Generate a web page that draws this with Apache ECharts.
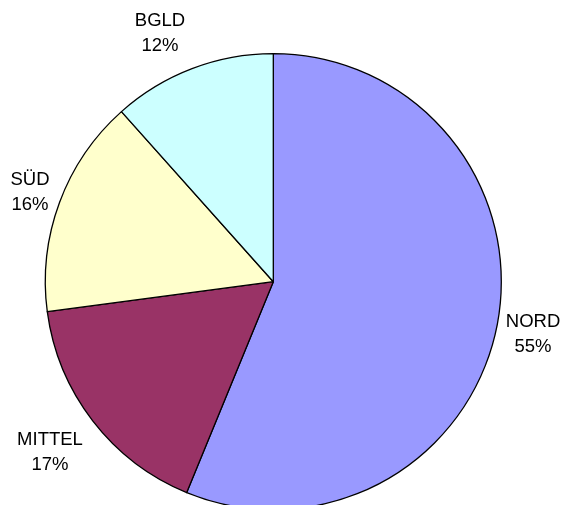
<!DOCTYPE html>
<html>
<head>
<meta charset="utf-8">
<script src="https://cdn.jsdelivr.net/npm/echarts@6/dist/echarts.min.js"></script>
<style>
  html, body { margin: 0; padding: 0; background: #fff; }
  #Pie { width: 563px; height: 505px; }
</style>
</head>
<body>
<div id="Pie"></div>
<script>
// 数据
var regionNames = ['NORD', 'MITTEL', 'SÜD', 'BGLD'];
var regionShares = [56.2, 16.7, 15.5, 11.6];      // slice sizes as drawn
var regionLabels = ['55%', '17%', '16%', '12%'];  // percentages as printed
var regionColors = ['#9999ff', '#993366', '#ffffcc', '#ccffff'];

// label placement (text centres)
var labelPos = [[533, 334], [50, 452], [30, 192], [160, 33]];

function PieChart(name, value) {
    var myChart = echarts.init(document.getElementById('Pie'));
    var option = {
        animation: false,
        series: [{
            type: 'pie',
            center: [273.3, 281.7],
            radius: 228,
            startAngle: 90,
            clockwise: true,
            avoidLabelOverlap: false,
            itemStyle: {
                borderColor: '#000',
                borderWidth: 1.3
            },
            label: {
                show: true,
                position: 'outside',
                color: '#000',
                fontFamily: 'Liberation Sans, Arial, sans-serif',
                fontSize: 18.5,
                lineHeight: 25,
                align: 'center',
                formatter: function (p) {
                    return p.name + '\n' + regionLabels[p.dataIndex];
                }
            },
            labelLine: { show: false },
            labelLayout: function (p) {
                return {
                    x: labelPos[p.dataIndex][0],
                    y: labelPos[p.dataIndex][1],
                    align: 'center',
                    verticalAlign: 'middle'
                };
            },
            emphasis: { disabled: true },
            data: (function () {
                var data = [];
                for (var i = 0; i < name.length; i++) {
                    data.push({
                        name: name[i],
                        value: value[i],
                        itemStyle: { color: regionColors[i] }
                    });
                }
                return data;
            })()
        }]
    };
    myChart.setOption(option);
}
PieChart(regionNames, regionShares);
</script>
</body>
</html>
